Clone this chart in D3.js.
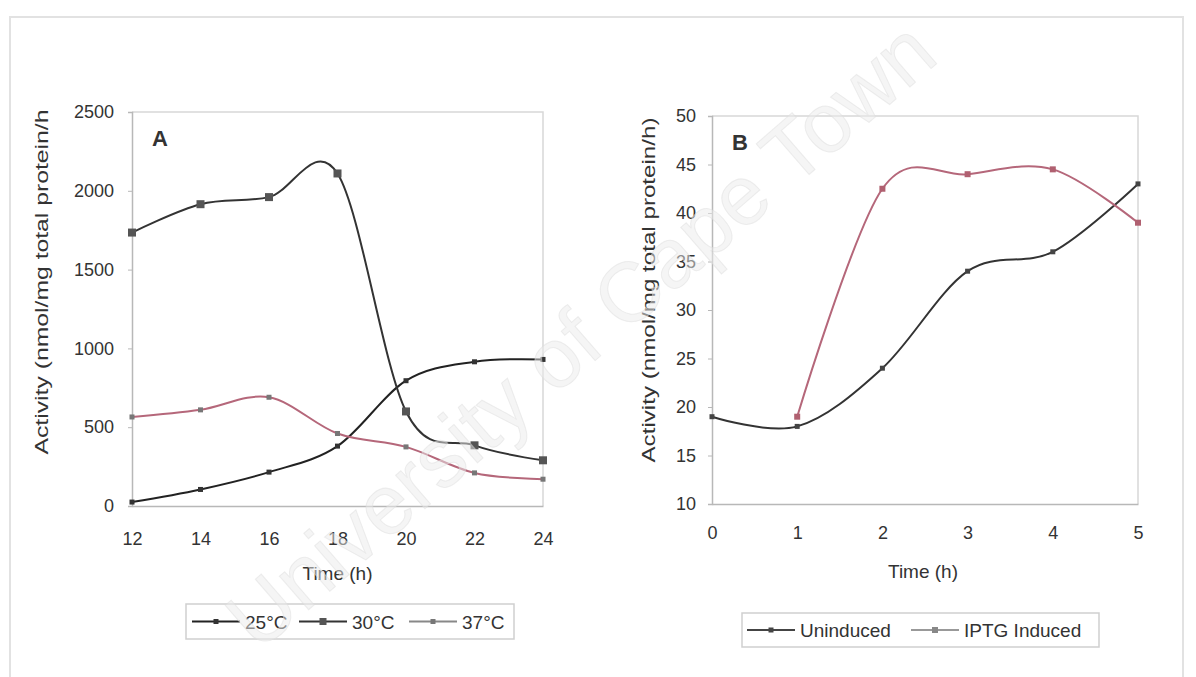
<!DOCTYPE html>
<html lang="en">
<head>
<meta charset="UTF-8">
<title>Activity vs time</title>
<script src="https://cdnjs.cloudflare.com/ajax/libs/d3/7.8.5/d3.min.js"></script>
<style>
  body { margin: 0; background: #fff; }
  svg text { font-family: "Liberation Sans", Arial, sans-serif; fill: #333; }
</style>
</head>
<body>
<svg id="fig"></svg>
<script>
// panel A data
var hoursA = [12, 14, 16, 18, 20, 22, 24]
var act25 = [25, 105, 215, 380, 795, 915, 930]
var act30 = [1735, 1915, 1960, 2110, 600, 385, 290]
var act37 = [565, 610, 690, 460, 375, 210, 170]
var ticksA = [0, 500, 1000, 1500, 2000, 2500]

// panel B data
var hoursB = [0, 1, 2, 3, 4, 5]
var uninduced = [19, 18, 24, 34, 36, 43]
var iptgHours = [1, 2, 3, 4, 5]
var iptg = [19, 42.5, 44, 44.5, 39]
var ticksB = [10, 15, 20, 25, 30, 35, 40, 45, 50]

var W = 1196, H = 677
var svg = d3.select("#fig").attr("width", W).attr("height", H)

// faint scan frame
svg.append("rect").attr("x", 10).attr("y", 17).attr("width", 1173).attr("height", 700)
  .attr("fill", "none").attr("stroke", "#e2e2e2").attr("stroke-width", 2)

var pink = "#b5677a"

function panel(opt) {
  var x = d3.scaleLinear().domain(opt.xd).range([opt.left, opt.right])
  var y = d3.scaleLinear().domain(opt.yd).range([opt.bottom, opt.top])
  var g = svg.append("g")

  // plot frame
  g.append("path")
    .attr("d", "M" + opt.left + "," + opt.top + "H" + opt.right + "V" + opt.bottom)
    .attr("fill", "none").attr("stroke", "#d8d8d8").attr("stroke-width", 1.5)

  var ya = g.append("g").attr("transform", "translate(" + opt.left + ",0)")
    .call(d3.axisLeft(y).tickValues(opt.yt).tickFormat(d3.format("d")).tickSize(4).tickPadding(opt.ypad))
  var xa = g.append("g").attr("transform", "translate(0," + opt.bottom + ")")
    .call(d3.axisBottom(x).tickValues(opt.xt).tickFormat(d3.format("d")).tickSize(0).tickPadding(opt.xpad))
  ;[ya, xa].forEach(function(a) {
    a.select(".domain").attr("stroke", "#b8b8b8").attr("stroke-width", 1.5)
    a.selectAll(".tick line").attr("stroke", "#b8b8b8")
    a.selectAll("text").style("font-size", "18px").attr("fill", "#333")
  })

  g.append("text").attr("x", (opt.left + opt.right) / 2 + opt.tdx).attr("y", opt.bottom + 74)
    .attr("text-anchor", "middle").style("font-size", "19px").text("Time (h)")

  g.append("text")
    .attr("transform", "translate(" + opt.ytx + "," + opt.yty + ") rotate(-90)")
    .attr("text-anchor", "middle").attr("textLength", opt.ylen).attr("lengthAdjust", "spacingAndGlyphs")
    .style("font-size", "18px").text(opt.ytitle)

  g.append("text").attr("x", opt.left + 20).attr("y", opt.top + 34)
    .style("font-size", "22px").style("font-weight", "bold").attr("fill", "#222").text(opt.letter)

  var line = d3.line().curve(d3.curveCardinal.tension(0))
    .x(function(d) { return x(d[0]) }).y(function(d) { return y(d[1]) })

  opt.series.forEach(function(s) {
    var pts = d3.zip(s.xs, s.ys)
    g.append("path").attr("d", line(pts)).attr("fill", "none")
      .attr("stroke", s.color).attr("stroke-width", 2)
    g.selectAll(null).data(pts).enter().append("rect")
      .attr("x", function(d) { return x(d[0]) - s.m / 2 })
      .attr("y", function(d) { return y(d[1]) - s.m / 2 })
      .attr("width", s.m).attr("height", s.m)
      .attr("fill", s.mcolor)
  })
}

panel({
  xd: [12, 24], yd: [0, 2500], left: 132, right: 543, top: 112, bottom: 506,
  xt: hoursA, yt: ticksA, ypad: 14, xpad: 26, tdx: 0,
  ytx: 48, yty: 282, ylen: 345, ytitle: "Activity (nmol/mg total protein/h",
  letter: "A",
  series: [
    { xs: hoursA, ys: act25, color: "#222", mcolor: "#333", m: 5 },
    { xs: hoursA, ys: act30, color: "#333", mcolor: "#555", m: 8 },
    { xs: hoursA, ys: act37, color: pink, mcolor: "#777", m: 5 }
  ]
})

panel({
  xd: [0, 5], yd: [10, 50], left: 712, right: 1138, top: 116, bottom: 504,
  xt: hoursB, yt: ticksB, ypad: 12, xpad: 22, tdx: -2,
  ytx: 655, yty: 290, ylen: 345, ytitle: "Activity (nmol/mg total protein/h)",
  letter: "B",
  series: [
    { xs: hoursB, ys: uninduced, color: "#333", mcolor: "#444", m: 5 },
    { xs: iptgHours, ys: iptg, color: pink, mcolor: "#b06070", m: 6 }
  ]
})

// legends
function legend(x0, y0, w, h, items) {
  var g = svg.append("g")
  g.append("rect").attr("x", x0).attr("y", y0).attr("width", w).attr("height", h)
    .attr("fill", "#fff").attr("stroke", "#cfcfcf").attr("stroke-width", 1.5)
  items.forEach(function(it) {
    var cy = y0 + h / 2
    g.append("line").attr("x1", it.x).attr("x2", it.x + 48).attr("y1", cy).attr("y2", cy)
      .attr("stroke", it.color).attr("stroke-width", 2)
    g.append("rect").attr("x", it.x + 24 - it.m / 2).attr("y", cy - it.m / 2)
      .attr("width", it.m).attr("height", it.m).attr("fill", it.mcolor)
    g.append("text").attr("x", it.x + 53).attr("y", cy + 7)
      .style("font-size", "19px").text(it.label)
  })
}

legend(186, 604, 328, 35, [
  { x: 192, label: "25°C", color: "#222", mcolor: "#333", m: 5 },
  { x: 299, label: "30°C", color: "#333", mcolor: "#555", m: 7 },
  { x: 409, label: "37°C", color: "#888", mcolor: "#777", m: 5 }
])
legend(742, 613, 357, 34, [
  { x: 747, label: "Uninduced", color: "#444", mcolor: "#444", m: 5 },
  { x: 911, label: "IPTG Induced", color: "#999", mcolor: "#888", m: 6 }
])

// watermark of the scanned source
svg.append("text")
  .attr("transform", "translate(585,340) rotate(-41)")
  .attr("text-anchor", "middle").attr("dominant-baseline", "middle")
  .style("font-size", "84px").style("fill", "#ececec").style("fill-opacity", 0.5)
  .attr("stroke", "#dcdcdc").attr("stroke-opacity", 0.45)
  .text("University of Cape Town")
</script>
</body>
</html>
